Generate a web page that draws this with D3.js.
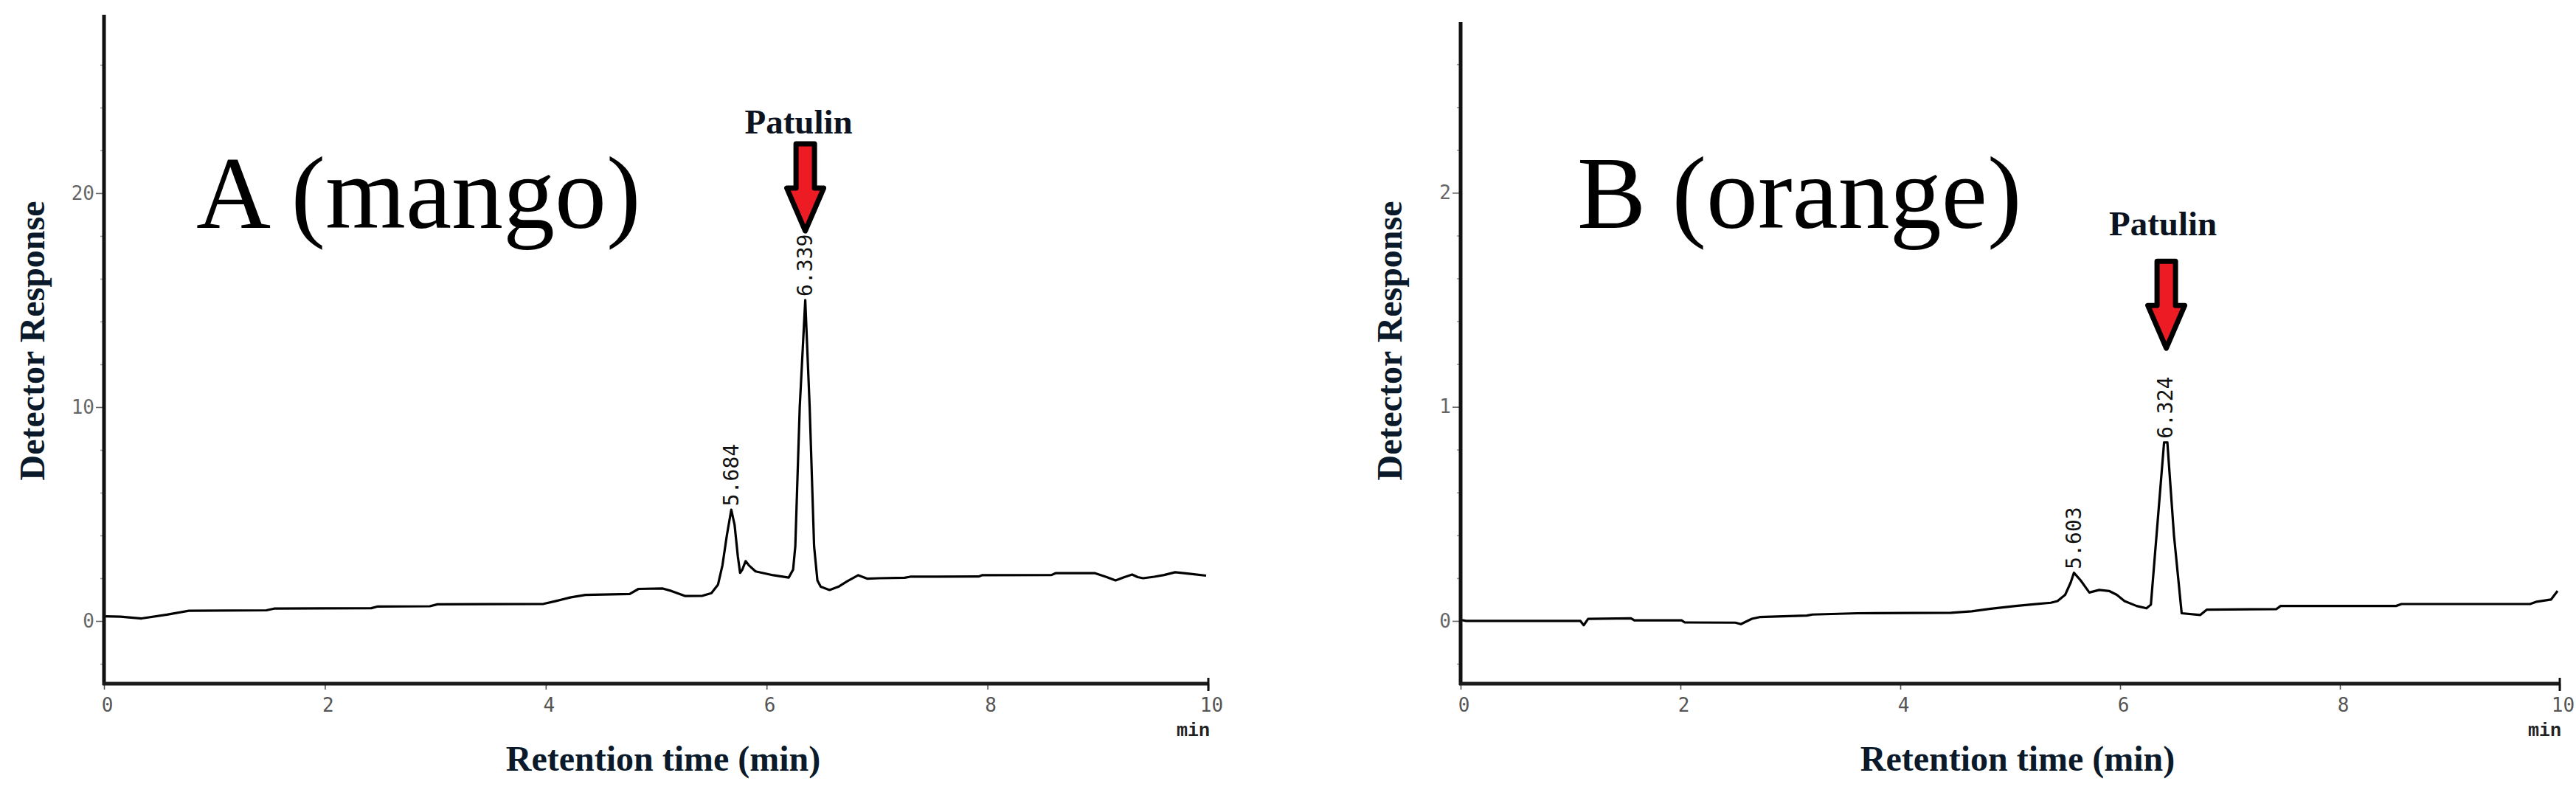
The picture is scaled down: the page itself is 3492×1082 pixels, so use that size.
<!DOCTYPE html>
<html>
<head>
<meta charset="utf-8">
<script src="https://cdn.jsdelivr.net/npm/d3@7/dist/d3.min.js"></script>
<style>
  html, body { margin: 0; padding: 0; background: #ffffff; }
  svg { display: block; }
</style>
</head>
<body>
<svg id="chart" width="3492" height="1082"></svg>
<script>
// ---------------- DATA ----------------
const xTickValues = [0, 2, 4, 6, 8, 10];
const yTicksA = [0, 10, 20];
const yTicksB = [0, 1, 2];
const yMinorA = [-2, 2, 4, 6, 8, 12, 14, 16, 18, 22, 24, 26];
const yMinorB = [-0.2, 0.2, 0.4, 0.6, 0.8, 1.2, 1.4, 1.6, 1.8, 2.2, 2.4, 2.6];

// Chromatogram A (mango): retention time (min) and detector response
const mangoTime = [0.00, 0.15, 0.34, 0.57, 0.77, 1.47, 1.54, 2.42, 2.48, 2.95, 3.02, 3.98, 4.08, 4.22, 4.36, 4.76, 4.84, 5.06, 5.14, 5.26, 5.42, 5.50, 5.56, 5.60, 5.64, 5.68, 5.71, 5.74, 5.76, 5.78, 5.81, 5.84, 5.90, 6.06, 6.20, 6.24, 6.26, 6.30, 6.35, 6.39, 6.43, 6.46, 6.49, 6.57, 6.65, 6.73, 6.83, 6.91, 7.02, 7.25, 7.30, 7.92, 7.95, 8.58, 8.62, 8.97, 9.08, 9.16, 9.24, 9.31, 9.36, 9.41, 9.51, 9.60, 9.70, 9.84, 9.98];
const mangoResponse = [0.22, 0.20, 0.12, 0.30, 0.48, 0.50, 0.58, 0.60, 0.68, 0.69, 0.78, 0.80, 0.92, 1.10, 1.22, 1.26, 1.50, 1.52, 1.40, 1.17, 1.18, 1.30, 1.70, 2.60, 4.00, 5.20, 4.50, 3.00, 2.25, 2.40, 2.80, 2.60, 2.32, 2.14, 2.03, 2.40, 3.50, 10.0, 15.0, 10.0, 3.50, 1.90, 1.60, 1.45, 1.60, 1.86, 2.14, 1.98, 2.00, 2.02, 2.07, 2.08, 2.14, 2.15, 2.24, 2.24, 2.05, 1.90, 2.05, 2.17, 2.05, 2.00, 2.07, 2.15, 2.28, 2.20, 2.12];

// Chromatogram B (orange)
const orangeTime = [0.00, 0.05, 1.09, 1.12, 1.16, 1.55, 1.58, 2.01, 2.04, 2.50, 2.55, 2.65, 2.72, 3.15, 3.20, 3.61, 4.46, 4.65, 4.81, 5.05, 5.21, 5.37, 5.43, 5.50, 5.55, 5.58, 5.64, 5.72, 5.81, 5.90, 5.97, 6.04, 6.15, 6.24, 6.28, 6.34, 6.40, 6.43, 6.49, 6.56, 6.73, 6.79, 7.42, 7.46, 8.51, 8.56, 9.73, 9.79, 9.92, 9.98];
const orangeResponse = [0.005, 0.000, 0.000, -0.020, 0.010, 0.012, 0.003, 0.003, -0.007, -0.008, -0.015, 0.010, 0.018, 0.025, 0.030, 0.036, 0.038, 0.045, 0.056, 0.070, 0.078, 0.085, 0.093, 0.122, 0.179, 0.225, 0.190, 0.133, 0.145, 0.140, 0.122, 0.093, 0.070, 0.059, 0.076, 0.455, 0.834, 0.834, 0.400, 0.036, 0.028, 0.053, 0.055, 0.070, 0.070, 0.079, 0.079, 0.090, 0.100, 0.140];

// Peak retention-time labels (position of peak apex, printed text)
const peakLabelsA = [
  { t: 5.68, v: 5.2, text: "5.684" },
  { t: 6.35, v: 15.0, text: "6.339" }
];
const peakLabelsB = [
  { t: 5.58, v: 0.225, text: "5.603" },
  { t: 6.415, v: 0.834, text: "6.324" }
];

// "Patulin" arrow annotations: arrow tip and label baseline (in data units)
const patulinA = { t: 6.35, tipV: 18.1, labelT: 6.29, labelV: 22.8 };
const patulinB = { t: 6.42, tipV: 1.26, labelT: 6.39, labelV: 1.80 };

// ---------------- DRAW ----------------
const svg = d3.select("#chart");
svg.append("rect").attr("width", 3492).attr("height", 1082).attr("fill", "#fff");

const AXIS_Y = 927;
const serif = "'Liberation Serif', 'Times New Roman', serif";
const mono = "'DejaVu Sans Mono', monospace";

function drawPanel(cfg) {
  const g = svg.append("g");
  const x = d3.scaleLinear().domain([0, 10]).range(cfg.xRange);
  const y = d3.scaleLinear().domain(cfg.yDomain).range([AXIS_Y, cfg.top]);

  // chromatogram trace
  const pts = cfg.time.map((t, i) => [t, cfg.resp[i]]);
  g.append("path")
    .datum(pts)
    .attr("fill", "none")
    .attr("stroke", "#000")
    .attr("stroke-width", 3.2)
    .attr("stroke-linejoin", "round")
    .attr("d", d3.line().x(d => x(d[0])).y(d => y(d[1])));

  // y minor ticks
  g.append("g")
    .attr("transform", `translate(${x(0)},0)`)
    .call(d3.axisLeft(y).tickValues(cfg.yMinor).tickSize(5).tickFormat(""))
    .call(s => s.select(".domain").remove())
    .call(s => s.selectAll("line").attr("stroke", "#999").attr("stroke-width", 1.5));

  // y major ticks
  g.append("g")
    .attr("transform", `translate(${x(0)},0)`)
    .call(d3.axisLeft(y).tickValues(cfg.yTicks).tickSize(11).tickPadding(2).tickFormat(d3.format("d")))
    .call(s => s.select(".domain").remove())
    .call(s => s.selectAll("line").attr("stroke", "#666").attr("stroke-width", 1.6))
    .call(s => s.selectAll("text")
      .attr("font-family", mono).attr("font-size", 26).attr("fill", "#666"));

  // x ticks
  g.append("g")
    .attr("transform", `translate(0,${AXIS_Y})`)
    .call(d3.axisBottom(x).tickValues(xTickValues).tickSize(8).tickPadding(12).tickFormat(d3.format("d")))
    .call(s => s.select(".domain").remove())
    .call(s => s.selectAll("line").attr("stroke", "#555").attr("stroke-width", 1.6))
    .call(s => s.selectAll("text")
      .attr("font-family", mono).attr("font-size", 26).attr("fill", "#555")
      .attr("dx", 4));

  // axis lines (thick)
  g.append("line")
    .attr("x1", x(0)).attr("x2", x(0))
    .attr("y1", cfg.top).attr("y2", AXIS_Y + 2)
    .attr("stroke", "#111").attr("stroke-width", 5);
  g.append("line")
    .attr("x1", x(0) - 2).attr("x2", x(10))
    .attr("y1", AXIS_Y).attr("y2", AXIS_Y)
    .attr("stroke", "#1a1a1a").attr("stroke-width", 5);
  g.append("line")
    .attr("x1", x(10)).attr("x2", x(10))
    .attr("y1", AXIS_Y - 8).attr("y2", AXIS_Y + 10)
    .attr("stroke", "#111").attr("stroke-width", 3);

  // "min" unit
  g.append("text")
    .attr("x", x(10) + 2).attr("y", 998)
    .attr("text-anchor", "end")
    .attr("font-family", "'Liberation Mono', 'Courier New', monospace")
    .attr("font-weight", "bold")
    .attr("font-size", 25)
    .attr("fill", "#222")
    .text("min");

  // peak labels
  cfg.peaks.forEach(p => {
    g.append("text")
      .attr("transform", `translate(${x(p.t)},${y(p.v) - 5}) rotate(-90)`)
      .attr("text-anchor", "start")
      .attr("dominant-baseline", "central")
      .attr("font-family", mono)
      .attr("font-size", 28)
      .attr("fill", "#111")
      .text(p.text);
  });

  // Patulin arrow
  const ax = x(cfg.patulin.t), ay = y(cfg.patulin.tipV);
  g.append("path")
    .attr("transform", `translate(${ax},${ay})`)
    .attr("d", "M0,-4 L-25,-62 L-12.5,-62 L-12.5,-122 L12.5,-122 L12.5,-62 L25,-62 Z")
    .attr("fill", "#ed1c24")
    .attr("stroke", "#000")
    .attr("stroke-width", 7)
    .attr("stroke-linejoin", "round");
  g.append("text")
    .attr("x", x(cfg.patulin.labelT)).attr("y", y(cfg.patulin.labelV))
    .attr("text-anchor", "middle")
    .attr("font-family", serif).attr("font-weight", "bold")
    .attr("font-size", 47).attr("fill", "#0b1320")
    .text("Patulin");

  // panel title
  g.append("text")
    .attr("x", cfg.titleX).attr("y", 309)
    .attr("font-family", serif)
    .attr("font-size", 140).attr("fill", "#000")
    .text(cfg.title);

  // axis titles
  g.append("text")
    .attr("transform", `translate(${cfg.yTitleX},462) rotate(-90)`)
    .attr("text-anchor", "middle")
    .attr("font-family", serif).attr("font-weight", "bold")
    .attr("font-size", 48).attr("fill", "#0a1a2a")
    .text("Detector Response");
  g.append("text")
    .attr("x", cfg.xTitleX).attr("y", 1045)
    .attr("text-anchor", "middle")
    .attr("font-family", serif).attr("font-weight", "bold")
    .attr("font-size", 48).attr("fill", "#0a1a2a")
    .text("Retention time (min)");
}

drawPanel({
  xRange: [141, 1638], yDomain: [-2.93, 28.34], top: 20,
  time: mangoTime, resp: mangoResponse,
  yTicks: yTicksA, yMinor: yMinorA,
  peaks: peakLabelsA, patulin: patulinA,
  title: "A (mango)", titleX: 266, yTitleX: 60, xTitleX: 899
});

drawPanel({
  xRange: [1980, 3470], yDomain: [-0.293, 2.797], top: 30,
  time: orangeTime, resp: orangeResponse,
  yTicks: yTicksB, yMinor: yMinorB,
  peaks: peakLabelsB, patulin: patulinB,
  title: "B (orange)", titleX: 2138, yTitleX: 1900, xTitleX: 2735
});
</script>
</body>
</html>
